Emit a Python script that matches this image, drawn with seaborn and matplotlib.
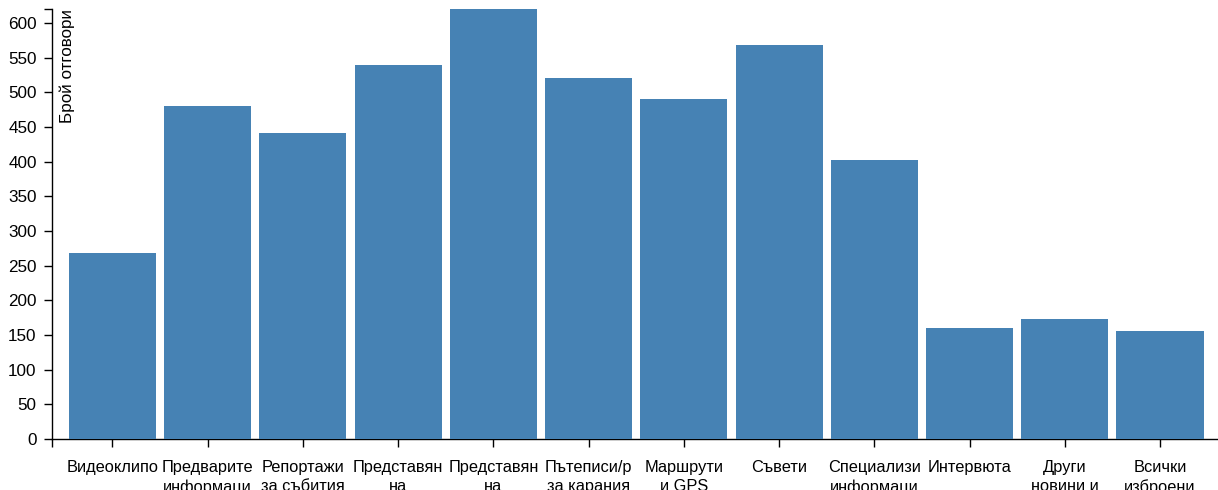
import matplotlib
matplotlib.use("Agg")
import matplotlib.pyplot as plt
import seaborn as sns
import pandas as pd

categories = ["Видеоклипо", "Предварите", "Репортажи", "Представян", "Представян ",
              "Пътеписи/р", "Маршрути", "Съвети", "Специализи", "Интервюта",
              "Други", "Всички"]
tick_labels = ["Видеоклипо\n", "Предварите\nинформаци", "Репортажи\nза събития",
               "Представян\nна", "Представян\nна", "Пътеписи/р\nза карания",
               "Маршрути\nи GPS", "Съвети\n", "Специализи\nинформаци",
               "Интервюта\n", "Други\nновини и", "Всички\nизброени"]
values = [268, 480, 441, 539, 620, 521, 490, 568, 402, 160, 173, 156]
y_ticks = list(range(0, 601, 50))
y_label = "Брой отговори"

df = pd.DataFrame({"cat": categories, "val": values})

sns.set_theme(style="white")
plt.rcParams["font.family"] = ["Liberation Sans", "DejaVu Sans"]

fig = plt.figure(figsize=(12.18, 4.9), dpi=100)
ax = fig.add_axes([52/1218, (490-439)/490, 1166/1218, 430/490])

sns.barplot(data=df, x="cat", y="val", color="#4682b4", saturation=1,
            width=0.914, linewidth=0, ax=ax, zorder=3)

ax.set_xlim(-0.635, 11.609)
ax.set_ylim(0, max(values))
ax.set_yticks(y_ticks)
ax.set_yticks([max(values)], minor=True)
ax.set_xticks(range(len(categories)))
ax.set_xticks([-0.635], minor=True)
ax.set_xticklabels(tick_labels, fontsize=11.8, color="black", linespacing=1.35)
ax.set_yticklabels([str(v) for v in y_ticks], fontsize=12.3, color="black")
ax.set_xlabel("")
ax.set_ylabel("")

for side in ["top", "right"]:
    ax.spines[side].set_visible(False)
for side in ["left", "bottom"]:
    ax.spines[side].set_color("black")
    ax.spines[side].set_linewidth(1)
    ax.spines[side].set_zorder(1)

ax.tick_params(axis="both", which="both", length=6, width=1, color="black",
               direction="out", left=True, bottom=True)
ax.tick_params(axis="y", pad=5)
ax.tick_params(axis="x", pad=9)

ax.text(0.0135, 1.0, y_label, transform=ax.transAxes, rotation=90,
        ha="center", va="top", fontsize=12.3, color="black")

fig.savefig("out.png", dpi=100)
